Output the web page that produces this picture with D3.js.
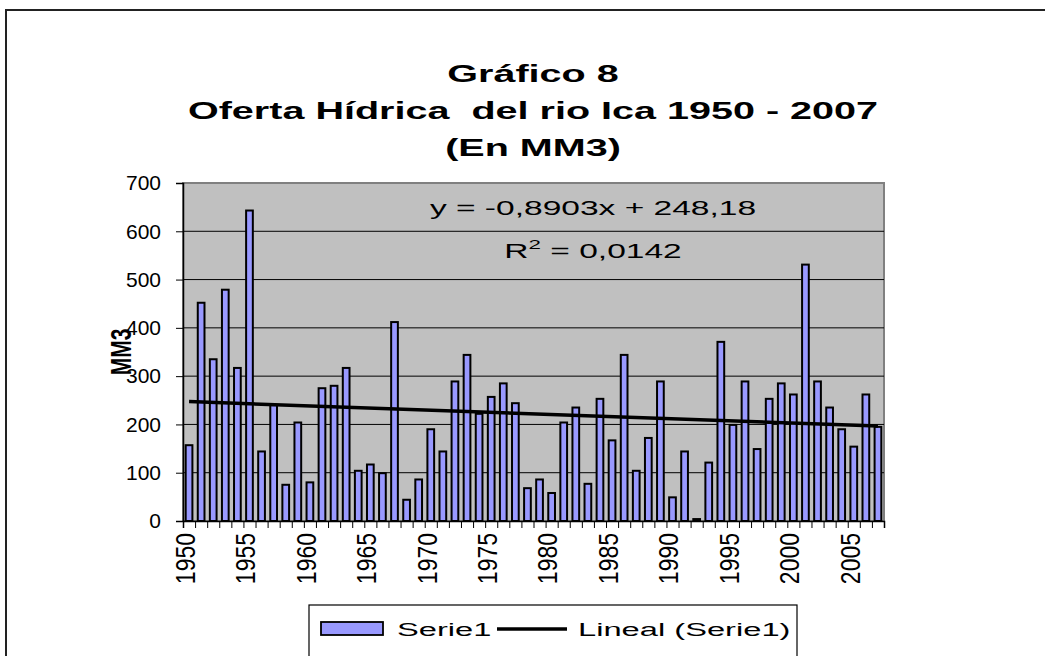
<!DOCTYPE html>
<html>
<head>
<meta charset="utf-8">
<script src="https://cdn.jsdelivr.net/npm/d3@7"></script>
<style>
  body { margin: 0; background: #fff; }
  text { font-family: "Liberation Sans", Arial, sans-serif; fill: #000; white-space: pre; }
</style>
</head>
<body>
<div id="chart"></div>
<script>
// Oferta hídrica anual del río Ica (MM3)
const years = d3.range(1950, 2008);
const values = [
  157, 452, 335, 479, 317, 643, 144, 240, 75, 204,
  80, 275, 280, 317, 104, 117, 99, 412, 44, 86,
  190, 144, 289, 344, 222, 257, 285, 244, 68, 86,
  58, 204, 235, 77, 253, 167, 344, 104, 172, 289,
  49, 144, 4, 121, 371, 199, 289, 149, 253, 285,
  262, 531, 289, 235, 190, 154, 262, 195
];
const yTicks = [0, 100, 200, 300, 400, 500, 600, 700];
const xLabelYears = d3.range(1950, 2008, 5);
const titleLines = ["Gráfico 8", "Oferta Hídrica  del rio Ica 1950 - 2007", "(En MM3)"];
const trendSlope = -0.8903;
const trendIntercept = 248.18;

const data = years.map((y, i) => ({ year: y, value: values[i] }));

const width = 1045, height = 656;
const SX = 1.72; // el título, la ecuación y la leyenda salen estirados en horizontal

const svg = d3.select("#chart").append("svg")
    .attr("width", width)
    .attr("height", height);

function addText(g, x, y, str, size, opts = {}) {
    const sx = opts.sx || 1;
    const rot = opts.rotate ? " rotate(-90)" : "";
    return g.append("text")
        .attr("transform", `translate(${x},${y}) scale(${sx},1)${rot}`)
        .attr("text-anchor", opts.anchor || "start")
        .attr("dominant-baseline", opts.baseline || "auto")
        .style("font-size", size + "px")
        .style("font-weight", opts.bold ? "bold" : "normal")
        .text(str);
}

// borde del área del gráfico
svg.append("rect")
    .attr("x", 6).attr("y", 10)
    .attr("width", 1200).attr("height", 800)
    .attr("fill", "#fff")
    .attr("stroke", "#222")
    .attr("stroke-width", 2);

const plot = { left: 183, right: 884, top: 183, bottom: 521 };

const x = d3.scaleBand()
    .domain(years)
    .range([plot.left, plot.right])
    .paddingInner(0.444)
    .paddingOuter(0.222);

const xEdge = d3.scaleLinear()
    .domain([0, years.length])
    .range([plot.left, plot.right]);

const y = d3.scaleLinear()
    .domain([0, 700])
    .range([plot.bottom, plot.top]);

// fondo del área de trazado
svg.append("rect")
    .attr("x", plot.left).attr("y", plot.top)
    .attr("width", plot.right - plot.left)
    .attr("height", plot.bottom - plot.top)
    .attr("fill", "#c0c0c0")
    .attr("stroke", "#808080")
    .attr("stroke-width", 2);

// líneas de división
svg.append("g")
    .selectAll("line")
    .data(yTicks.filter(d => d > 0 && d < 700))
    .join("line")
    .attr("x1", plot.left).attr("x2", plot.right)
    .attr("y1", d => y(d)).attr("y2", d => y(d))
    .attr("stroke", "#000")
    .attr("stroke-width", 1);

// barras
svg.append("g")
    .selectAll("rect")
    .data(data)
    .join("rect")
    .attr("x", d => x(d.year))
    .attr("y", d => y(d.value))
    .attr("width", x.bandwidth())
    .attr("height", d => y(0) - y(d.value))
    .attr("fill", "#9999ff")
    .attr("stroke", "#000")
    .attr("stroke-width", 2);

// línea de tendencia (lineal)
const i0 = 1, i1 = years.length;
const trend = [
    { cx: x(years[0]) + x.bandwidth() / 2, v: trendSlope * i0 + trendIntercept },
    { cx: x(years[years.length - 1]) + x.bandwidth() / 2, v: trendSlope * i1 + trendIntercept }
];
svg.append("path")
    .datum(trend)
    .attr("d", d3.line().x(d => d.cx).y(d => y(d.v)))
    .attr("stroke", "#000")
    .attr("stroke-width", 3.5)
    .attr("fill", "none");

// eje Y
const yAxis = svg.append("g")
    .attr("transform", `translate(${plot.left},0)`)
    .call(d3.axisLeft(y).tickValues(yTicks).tickSize(7).tickFormat(""));
yAxis.select(".domain").attr("stroke", "#000").attr("stroke-width", 1.5);
yAxis.selectAll(".tick line").attr("stroke", "#000");
yTicks.forEach(t => {
    addText(svg, 161, y(t), String(t), 20, { anchor: "end", baseline: "central", sx: 1.05 });
});

// eje X
const xAxis = svg.append("g")
    .attr("transform", `translate(0,${plot.bottom})`)
    .call(d3.axisBottom(xEdge).tickValues(d3.range(0, years.length + 1)).tickSize(7).tickFormat(""));
xAxis.select(".domain").attr("stroke", "#000").attr("stroke-width", 1.5);
xAxis.selectAll(".tick line").attr("stroke", "#000");
xLabelYears.forEach(yr => {
    addText(svg, x(yr) + x.bandwidth() / 2 - 4, plot.bottom + 12, String(yr), 23,
        { anchor: "end", baseline: "central", rotate: true, sx: 1.2 });
});

// título del eje Y
addText(svg, 121, (plot.top + plot.bottom) / 2, "MM3", 21,
    { anchor: "middle", baseline: "central", rotate: true, bold: true, sx: 1.4 });

// título
const titleY = [82, 119, 156];
titleLines.forEach((t, i) => {
    addText(svg, 533, titleY[i], t, 23, { anchor: "middle", bold: true, sx: SX });
});

// ecuación de la tendencia
addText(svg, 593, 215, "y = -0,8903x + 248,18", 19.5, { anchor: "middle", sx: SX });
const r2 = svg.append("text")
    .attr("transform", `translate(593,258) scale(${SX},1)`)
    .attr("text-anchor", "middle")
    .style("font-size", "19.5px");
r2.append("tspan").text("R");
r2.append("tspan").attr("dy", -9).style("font-size", "13px").text("2");
r2.append("tspan").attr("dy", 9).text(" = 0,0142");

// leyenda
const legend = svg.append("g");
legend.append("rect")
    .attr("x", 309).attr("y", 605)
    .attr("width", 488).attr("height", 80)
    .attr("fill", "#fff")
    .attr("stroke", "#000")
    .attr("stroke-width", 1.2);
legend.append("rect")
    .attr("x", 321).attr("y", 622)
    .attr("width", 62).attr("height", 13)
    .attr("fill", "#9999ff")
    .attr("stroke", "#000")
    .attr("stroke-width", 1.8);
addText(legend, 397, 636, "Serie1", 19, { sx: SX });
legend.append("line")
    .attr("x1", 497).attr("x2", 567)
    .attr("y1", 629).attr("y2", 629)
    .attr("stroke", "#000")
    .attr("stroke-width", 3.5);
addText(legend, 578, 636, "Lineal (Serie1)", 19, { sx: SX });
</script>
</body>
</html>
